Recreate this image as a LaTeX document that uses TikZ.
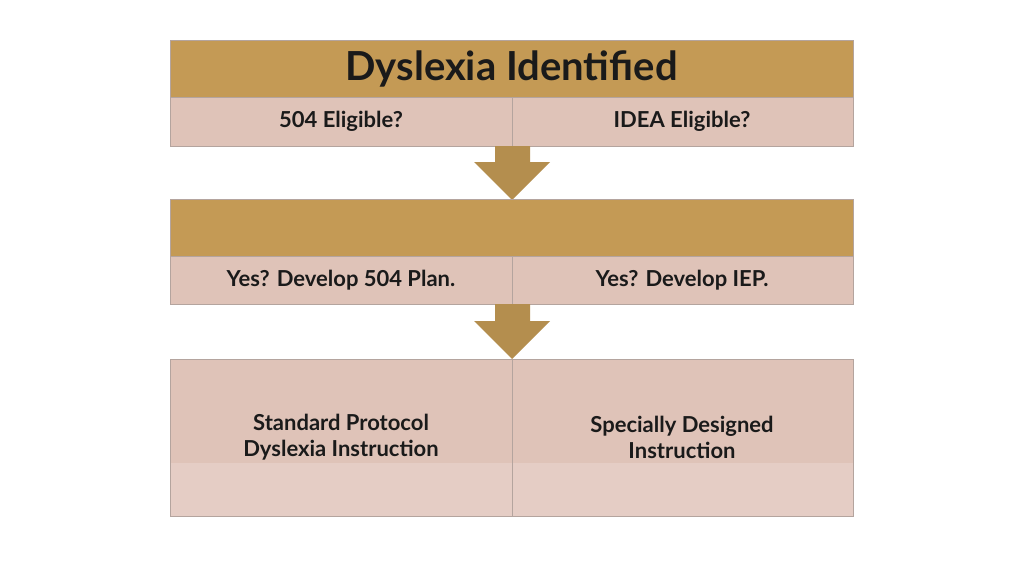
\documentclass[tikz,border=0pt]{standalone}
\usepackage{fontspec}
\setmainfont{Lato}
\definecolor{tan}{HTML}{C49A55}
\definecolor{pinkc}{HTML}{DFC3B8}
\definecolor{pinkl}{HTML}{E5CDC5}
\definecolor{edgec}{HTML}{B4A49E}
\definecolor{txt}{HTML}{1A1A1A}
\begin{document}
\begin{tikzpicture}[x=1pt,y=-1pt,
  banner/.style={fill=tan,draw=edgec,line width=0.8pt},
  cell/.style={fill=pinkc,draw=edgec,line width=0.8pt},
  lbl/.style={text=txt,font=\bfseries\fontsize{22}{26}\selectfont,align=center},
  arr/.style={fill=tan!92!black,draw=none}]
\useasboundingbox (0,0) rectangle (1024,576);
\fill[white] (0,0) rectangle (1024,576);
% top
\draw[banner] (170,40) rectangle (853,97);
\node[text=txt,font=\bfseries\fontsize{40}{44}\selectfont] (t) at (511.5,69) {Dyslexia Identified};
\draw[cell] (170,97) rectangle (512,146);
\draw[cell] (512,97) rectangle (853,146);
\node[lbl] (a1) at (341,121) {504 Eligible?};
\node[lbl] (a2) at (682,121) {IDEA Eligible?};
% arrow 1
\fill[arr] (495,146) -- (530,146) -- (530,162) -- (550,162) -- (512,200) -- (474,162) -- (495,162) -- cycle;
% second
\draw[banner] (170,199) rectangle (853,256);
\draw[cell] (170,256) rectangle (512,304);
\draw[cell] (512,256) rectangle (853,304);
\node[lbl] (b1) at (341,280) {Yes? Develop 504 Plan.};
\node[lbl] (b2) at (682,280) {Yes? Develop IEP.};
% arrow 2
\fill[arr] (495,304) -- (530,304) -- (530,321) -- (550,321) -- (512,359) -- (474,321) -- (495,321) -- cycle;
% bottom
\fill[pinkc] (170,359) rectangle (853,463);
\fill[pinkl] (170,463) rectangle (853,516);
\draw[edgec,line width=0.8pt] (170,359) rectangle (512,516);
\draw[edgec,line width=0.8pt] (512,359) rectangle (853,516);
\node[lbl] (c1) at (341,437) {Standard Protocol\\Dyslexia Instruction};
\node[lbl] (c2) at (682,437) {Specially Designed\\Instruction};
\end{tikzpicture}
\end{document}
